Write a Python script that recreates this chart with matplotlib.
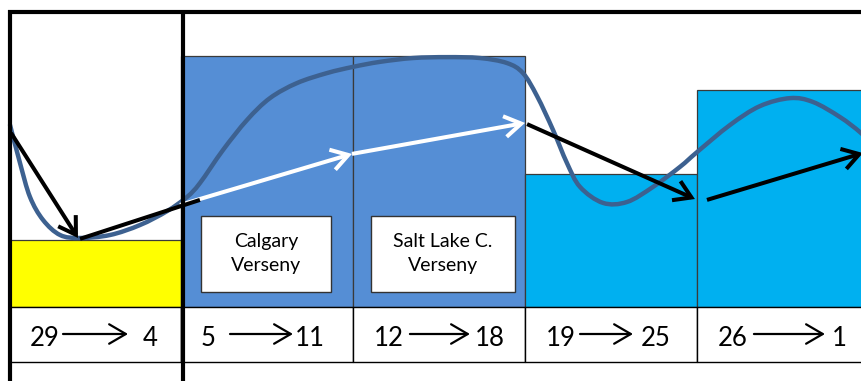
import numpy as np
import matplotlib
matplotlib.use("Agg")
import matplotlib.pyplot as plt
from matplotlib.patches import Rectangle, FancyArrowPatch, ArrowStyle
from matplotlib.path import Path
from matplotlib.patches import PathPatch

plt.rcParams['font.family'] = ['Lato', 'DejaVu Sans']

# ---- data -------------------------------------------------------------
week_from = ["29", "5", "12", "19", "26"]
week_to = ["4", "11", "18", "25", "1"]
bar_heights = [22.7, 85.1, 85.1, 45.1, 73.6]
bar_colors = ["#FFFF00", "#558ED5", "#558ED5", "#00B0F0", "#00B0F0"]

event_names = ["Calgary\nVerseny", "Salt Lake C.\nVerseny"]

# form curve (x in week slots, y in form units)
curve_x = [0.006, 0.064, 0.122, 0.198, 0.297, 0.413, 0.587, 0.762, 0.919,
           1.035, 1.110, 1.244, 1.384, 1.517, 1.674, 1.849, 2.000, 2.157,
           2.349, 2.547, 2.738, 2.895, 2.988, 3.070, 3.163, 3.244, 3.320,
           3.453, 3.593, 3.744, 3.901, 4.000, 4.192, 4.366, 4.541, 4.674,
           4.831, 4.953, 5.052]
curve_y = [61.7, 48.8, 37.3, 29.5, 24.4, 23.4, 24.4, 27.8, 32.5,
           37.3, 42.0, 53.2, 63.4, 70.8, 75.9, 79.3, 81.4, 83.1,
           84.4, 84.7, 84.4, 82.7, 79.3, 71.5, 60.0, 48.8, 40.7,
           35.3, 35.6, 40.7, 47.5, 52.5, 61.7, 68.1, 70.8, 69.5,
           64.4, 59.0, 53.2]

# trend arrows: start / end points and whether an arrowhead is drawn
trend_x0 = [0.012, 0.994, 1.994, 0.413, 3.012, 4.058]
trend_y0 = [59.0, 34.6, 51.9, 23.1, 62.0, 36.3]
trend_x1 = [0.401, 1.994, 3.000, 1.110, 3.988, 4.965]
trend_y1 = [23.4, 51.9, 62.4, 36.3, 36.6, 52.2]
trend_head = [True, True, True, False, True, True]
trend_color = ["black", "white", "white", "black", "black", "black"]

# ---- layout (pixel-based frame) --------------------------------------
W, H = 861, 381
PX_X = 172.0     # pixels per week slot
PX_Y = 2.95      # pixels per form unit
X0_PX, Y0_PX = 9, 307   # pixel position of (0, 0)

def px_to_x(p):
    return (p - X0_PX) / PX_X

def px_to_y(p):
    return (Y0_PX - p) / PX_Y

fig = plt.figure(figsize=(W / 100, H / 100), dpi=100)
ax = fig.add_axes([0, 0, 1, 1])
ax.set_xlim(px_to_x(0), px_to_x(W))
ax.set_ylim(px_to_y(H), px_to_y(0))
ax.axis("off")

row_bottom = px_to_y(362)
top_y = px_to_y(12)

# bars
for i, (h, c) in enumerate(zip(bar_heights, bar_colors)):
    ax.add_patch(Rectangle((i, 0), 1, h, facecolor=c, edgecolor="#3a3a3a",
                           lw=0.9, zorder=1))

# date row
for i in range(len(week_from)):
    ax.add_patch(Rectangle((i, row_bottom), 1, -row_bottom, facecolor="white",
                           edgecolor="black", lw=1.0, zorder=1))

from_off = [0.122, 0.116, 0.122, 0.122, 0.122]
arr_start = [0.314, 0.285, 0.331, 0.320, 0.331]
arr_end = [0.692, 0.651, 0.680, 0.628, 0.744]
to_off = [0.779, 0.663, 0.709, 0.674, 0.785]
ty = px_to_y(339)
aty = px_to_y(334)
for i in range(len(week_from)):
    ax.text(i + from_off[i], ty, week_from[i], fontsize=18.5, ha="left",
            va="center", zorder=3)
    ax.text(i + to_off[i], ty, week_to[i], fontsize=18.5, ha="left",
            va="center", zorder=3)
    ax.add_patch(FancyArrowPatch(
        (i + arr_start[i], aty), (i + arr_end[i], aty),
        arrowstyle=ArrowStyle("->", head_length=12, head_width=7),
        mutation_scale=1, lw=1.6, color="black", shrinkA=0, shrinkB=0,
        zorder=3))

# event boxes
box_y0, box_y1 = px_to_y(292), px_to_y(216)
box_spans = [(px_to_x(201), px_to_x(331)), (px_to_x(371), px_to_x(515))]
for name, (bx0, bx1) in zip(event_names, box_spans):
    ax.add_patch(Rectangle((bx0, box_y0), bx1 - bx0, box_y1 - box_y0,
                           facecolor="white", edgecolor="#333333", lw=1.0,
                           zorder=2))
    ax.text((bx0 + bx1) / 2, (box_y0 + box_y1) / 2 + 0.3, name, fontsize=14,
            ha="center", va="center", linespacing=1.5, zorder=3)

# smooth form curve (Catmull-Rom through the points, drawn as Bezier path)
pts = np.column_stack([curve_x, curve_y])
verts = [pts[0]]
codes = [Path.MOVETO]
for k in range(len(pts) - 1):
    p0 = pts[k - 1] if k > 0 else pts[k]
    p1, p2 = pts[k], pts[k + 1]
    p3 = pts[k + 2] if k + 2 < len(pts) else pts[k + 1]
    c1 = p1 + (p2 - p0) / 6.0
    c2 = p2 - (p3 - p1) / 6.0
    verts += [c1, c2, p2]
    codes += [Path.CURVE4] * 3
ax.add_patch(PathPatch(Path(verts, codes), facecolor="none",
                       edgecolor="#3D6190", lw=3.2, capstyle="round",
                       zorder=4))

# trend arrows
for x0, y0, x1, y1, head, col in zip(trend_x0, trend_y0, trend_x1, trend_y1,
                                     trend_head, trend_color):
    style = ArrowStyle("->", head_length=12, head_width=7.5) if head else "-"
    ax.add_patch(FancyArrowPatch((x0, y0), (x1, y1), arrowstyle=style,
                                 mutation_scale=1, lw=2.9, color=col,
                                 shrinkA=0, shrinkB=0, capstyle="butt",
                                 joinstyle="miter",
                                 zorder=5 if col == "black" else 4.5))

# thick frame lines
ax.plot([px_to_x(8), px_to_x(W)], [top_y, top_y], color="black", lw=3.0,
        solid_capstyle="butt", zorder=6)
for xp in (9.8, 183):
    ax.plot([px_to_x(xp), px_to_x(xp)], [px_to_y(10), px_to_y(H)],
            color="black", lw=3.0, solid_capstyle="butt", zorder=6)

fig.savefig("out.png", dpi=100)
